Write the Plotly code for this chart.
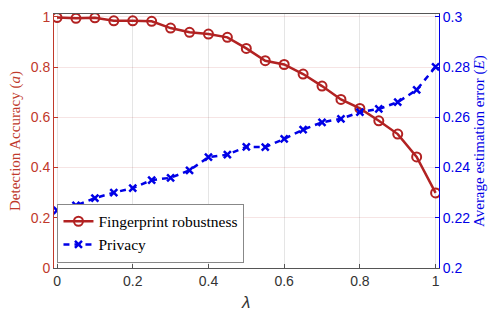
import plotly.graph_objects as go

lam = [0, 0.05, 0.1, 0.15, 0.2, 0.25, 0.3, 0.35, 0.4, 0.45, 0.5,
       0.55, 0.6, 0.65, 0.7, 0.75, 0.8, 0.85, 0.9, 0.95, 1.0]
accuracy = [0.997, 0.994, 0.996, 0.984, 0.984, 0.982, 0.955, 0.938, 0.931, 0.918, 0.874,
            0.825, 0.810, 0.772, 0.724, 0.671, 0.635, 0.586, 0.533, 0.442, 0.299]
privacy = [0.2229, 0.2249, 0.2278, 0.2300, 0.2318, 0.2350, 0.2359, 0.2389, 0.2441, 0.2451, 0.2482,
           0.2481, 0.2514, 0.2551, 0.2580, 0.2594, 0.2620, 0.2633, 0.2660, 0.2709, 0.2801]
x_ticks = [0, 0.2, 0.4, 0.6, 0.8, 1]
left_ticks = [0, 0.2, 0.4, 0.6, 0.8, 1]
right_ticks = [0.2, 0.22, 0.24, 0.26, 0.28, 0.3]

RED = "#B22222"
RED_TXT = "#C0392B"
BLUE = "#0000E6"
serif = "Liberation Serif"
sans = "Liberation Sans"

W, H = 491, 313
ML, MR, MT, MB = 54, 52, 14, 45
PW, PH = W - ML - MR, H - MT - MB

fig = go.Figure()
fig.add_trace(go.Scatter(
    x=lam, y=accuracy, name="Fingerprint robustness", mode="lines+markers",
    line=dict(color=RED, width=2.5),
    marker=dict(symbol="circle-open", size=9, color=RED, line=dict(width=2, color=RED)),
    yaxis="y"))
fig.add_trace(go.Scatter(
    x=lam, y=privacy, name="Privacy", mode="lines+markers",
    line=dict(color=BLUE, width=2.5, dash="6px,5px"),
    marker=dict(symbol="x-thin-open", size=7, color=BLUE, line=dict(width=2.5, color=BLUE)),
    yaxis="y2"))

fig.update_layout(
    width=W, height=H,
    margin=dict(l=ML, r=MR, t=MT, b=MB, autoexpand=False),
    paper_bgcolor="white", plot_bgcolor="white",
    showlegend=True,
    legend=dict(x=0.009, y=0.021, xanchor="left", yanchor="bottom",
                bgcolor="white", bordercolor="#888888", borderwidth=1,
                font=dict(family=serif, size=15.5, color="black"),
                tracegroupgap=0, itemwidth=30),
    xaxis=dict(range=[-0.008, 1.009], tickvals=x_ticks, ticktext=[str(v) for v in x_ticks],
               showgrid=True, gridcolor="rgba(0,0,0,0.10)", gridwidth=1, automargin=False,
               zeroline=False, showline=True, linecolor="#555555", linewidth=1,
               mirror=True, ticks="inside", ticklen=4, tickcolor="#555555",
               tickfont=dict(family=sans, size=14, color="#333333")),
    yaxis=dict(range=[0, 1.011], tickvals=left_ticks, ticktext=[str(v) for v in left_ticks],
               showgrid=True, gridcolor="rgba(178,34,34,0.12)", gridwidth=1, automargin=False,
               zeroline=False, showline=True, linecolor=RED_TXT, linewidth=1,
               ticks="inside", ticklen=4, tickcolor=RED_TXT,
               tickfont=dict(family=sans, size=14, color=RED_TXT)),
    yaxis2=dict(range=[0.2, 0.3011], tickvals=right_ticks, ticktext=[str(v) for v in right_ticks],
                overlaying="y", side="right", showgrid=False, automargin=False,
                zeroline=False, showline=True, linecolor=BLUE, linewidth=1,
                ticks="inside", ticklen=4, tickcolor=BLUE,
                tickfont=dict(family=sans, size=14, color=BLUE)),
)

def px_x(p):
    return (p - ML) / PW

def px_y(p):
    return (H - MB - p) / PH

fig.add_annotation(text="Detection Accuracy (<i>a</i>)", textangle=-90,
                   xref="paper", yref="paper", x=px_x(15), y=px_y(141),
                   xanchor="center", yanchor="middle", showarrow=False,
                   font=dict(family=serif, size=15, color=RED_TXT))
fig.add_annotation(text="Average estimation error (<i>E</i>)", textangle=-90,
                   xref="paper", yref="paper", x=px_x(479), y=px_y(141),
                   xanchor="center", yanchor="middle", showarrow=False,
                   font=dict(family=serif, size=15, color=BLUE))
fig.add_annotation(text="<i>λ</i>", xref="paper", yref="paper",
                   x=px_x(245), y=px_y(302), xanchor="center", yanchor="middle",
                   showarrow=False, font=dict(family=sans, size=17, color="#333333"))

fig.write_html("out.html", config={"displayModeBar": False},
               post_script="document.body.style.margin='0';document.body.style.overflow='hidden';")
